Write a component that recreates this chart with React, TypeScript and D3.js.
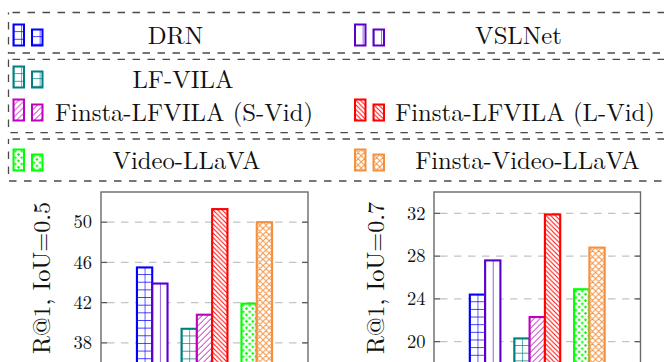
import React from "react";
import * as d3 from "d3";

// ---------- data ----------
const seriesNames = [
  "DRN",
  "VSLNet",
  "LF-VILA",
  "Finsta-LFVILA (S-Vid)",
  "Finsta-LFVILA (L-Vid)",
  "Video-LLaVA",
  "Finsta-Video-LLaVA",
];
const groupNames = ["DRN / VSLNet", "LF-VILA", "Video-LLaVA"];
const seriesGroup = [0, 0, 1, 1, 1, 2, 2];
const r1Iou05 = [45.5, 43.9, 39.4, 40.8, 51.3, 41.9, 50.0];
const r1Iou07 = [24.4, 27.6, 20.3, 22.3, 31.9, 24.9, 28.8];
const ticksIou05 = [38, 42, 46, 50];
const ticksIou07 = [20, 24, 28, 32];
const domainIou05 = [36, 53];
const domainIou07 = [18, 34];
const panelLabels = ["R@1, IoU=0.5", "R@1, IoU=0.7"];

// ---------- styles ----------
const seriesColors = ["#0000ff", "#5a00cc", "#008080", "#bf00bf", "#ff0000", "#00ff00", "#f5913e"];
const seriesPatterns = ["grid", "vlines", "grid", "nelines", "nwlines", "plus", "crosshatch"];
const FONT = "Latin Modern Roman";

// legend layout: box extents, and for each series: column, icon bottom, text centre x, text baseline
const legendBoxes = [
  { top: 12.5, bottom: 53 },
  { top: 59.3, bottom: 132.7 },
  { top: 139, bottom: 181 },
];
const legendCols = [13.5, 355];
const legendPlace = [
  { col: 0, iconBottom: 45.5, tx: 175.5, ty: 43.5 },
  { col: 1, iconBottom: 45.5, tx: 518.5, ty: 43.5 },
  { col: 0, iconBottom: 87.5, tx: 183, ty: 88 },
  { col: 0, iconBottom: 120.5, tx: 184, ty: 120.5 },
  { col: 1, iconBottom: 120.5, tx: 525, ty: 120.5 },
  { col: 0, iconBottom: 170.5, tx: 186.5, ty: 168.5 },
  { col: 1, iconBottom: 170.5, tx: 527.5, ty: 168.5 },
];

const panels = [
  { x0: 101, x1: 308, values: r1Iou05, ticks: ticksIou05, domain: domainIou05, label: panelLabels[0], labelX: 49.5, tickX: 92 },
  { x0: 434, x1: 640.5, values: r1Iou07, ticks: ticksIou07, domain: domainIou07, label: panelLabels[1], labelX: 383.5, tickX: 425.5 },
];
const TOP = 192;
const BOTTOM = 363;
const BAR_W = 15.3;

function patternId(i: number) {
  return `pat-${i}`;
}

function PatternDef({ i }: { i: number }) {
  const c = seriesColors[i];
  const kind = seriesPatterns[i];
  const sw = 0.95;
  if (kind === "grid") {
    const s = 7.65;
    return (
      <pattern id={patternId(i)} patternUnits="userSpaceOnUse" width={s} height={s} y={-1}>
        <rect width={s} height={s} fill="white" />
        <path d={`M0,0H${s}M0,0V${s}`} stroke={c} strokeWidth={1.25} fill="none" />
      </pattern>
    );
  }
  if (kind === "vlines") {
    const s = 7.65;
    return (
      <pattern id={patternId(i)} patternUnits="userSpaceOnUse" width={s} height={s}>
        <rect width={s} height={s} fill="white" />
        <path d={`M0,0V${s}`} stroke={c} strokeWidth={1.25} fill="none" />
      </pattern>
    );
  }
  if (kind === "nelines") {
    const s = 6;
    return (
      <pattern id={patternId(i)} patternUnits="userSpaceOnUse" width={s} height={s}>
        <rect width={s} height={s} fill="white" />
        <path d={`M0,${s}L${s},0M-1,1L1,-1M${s - 1},${s + 1}L${s + 1},${s - 1}`} stroke={c} strokeWidth={sw} fill="none" />
      </pattern>
    );
  }
  if (kind === "nwlines") {
    const s = 4.6;
    return (
      <pattern id={patternId(i)} patternUnits="userSpaceOnUse" width={s} height={s}>
        <rect width={s} height={s} fill="white" />
        <path d={`M0,0L${s},${s}M-1,${s - 1}L1,${s + 1}M${s - 1},-1L${s + 1},1`} stroke={c} strokeWidth={sw} fill="none" />
      </pattern>
    );
  }
  if (kind === "plus") {
    const s = 6.4;
    const p = (x: number, y: number) => `M${x - 1.4},${y}H${x + 1.4}M${x},${y - 1.4}V${y + 1.4}`;
    return (
      <pattern id={patternId(i)} patternUnits="userSpaceOnUse" width={s} height={s}>
        <rect width={s} height={s} fill="white" />
        <path d={p(1.8, 1.8) + p(1.8 + s / 2, 1.8 + s / 2)} stroke={c} strokeWidth={1.1} fill="none" />
      </pattern>
    );
  }
  // crosshatch
  const s = 6.2;
  return (
    <pattern id={patternId(i)} patternUnits="userSpaceOnUse" width={s} height={s}>
      <rect width={s} height={s} fill="white" />
      <path
        d={`M0,0L${s},${s}M0,${s}L${s},0M-1,1L1,-1M${s - 1},${s + 1}L${s + 1},${s - 1}M-1,${s - 1}L1,${s + 1}M${s - 1},-1L${s + 1},1`}
        stroke={c}
        strokeWidth={sw}
        fill="none"
      />
    </pattern>
  );
}

function Panel({ p, idx }: { p: (typeof panels)[number]; idx: number }) {
  const y = d3.scaleLinear().domain(p.domain).range([BOTTOM, TOP]);
  const gx = d3.scalePoint<number>().domain(groupNames.map((_, i) => i)).range([p.x0, p.x1]).padding(0.98);
  const groupCounts = groupNames.map((_, g) => seriesGroup.filter((s) => s === g).length);
  const clipId = `clip-${idx}`;
  return (
    <g>
      <clipPath id={clipId}>
        <rect x={p.x0} y={TOP} width={p.x1 - p.x0} height={BOTTOM - TOP} />
      </clipPath>
      {/* grid */}
      {p.ticks.map((t) => (
        <line key={`g${t}`} x1={p.x0} x2={p.x1} y1={y(t)} y2={y(t)} stroke="#c4c4c4" strokeWidth={1.3} strokeDasharray="7.5 6.5" strokeDashoffset={-6} />
      ))}
      {/* bars */}
      <g clipPath={`url(#${clipId})`}>
        {p.values.map((v, i) => {
          const g = seriesGroup[i];
          const k = seriesGroup.slice(0, i).filter((s) => s === g).length;
          const n = groupCounts[g];
          const x = (gx(g) as number) + (k - n / 2) * BAR_W;
          const top = y(v);
          return (
            <g key={i} transform={`translate(${x},${top})`}>
              <rect x={0} y={0} width={BAR_W} height={BOTTOM + 5 - top} fill={`url(#${patternId(i)})`} stroke={seriesColors[i]} strokeWidth={2.1} />
            </g>
          );
        })}
      </g>
      {/* ticks */}
      {p.ticks.map((t) => (
        <g key={`t${t}`}>
          <line x1={p.x0} x2={p.x0 + 6} y1={y(t)} y2={y(t)} stroke="#5a5a5a" strokeWidth={1.3} />
          <line x1={p.x1 - 6} x2={p.x1} y1={y(t)} y2={y(t)} stroke="#5a5a5a" strokeWidth={1.3} />
          <text x={p.tickX} y={y(t)} dy="0.34em" textAnchor="end" fontSize={18.5} fontFamily={FONT} fill="#111">
            {t}
          </text>
        </g>
      ))}
      {/* frame */}
      <rect x={p.x0} y={TOP} width={p.x1 - p.x0} height={BOTTOM - TOP} fill="none" stroke="#6a6a6a" strokeWidth={1.4} />
      <text transform={`translate(${p.labelX},278) rotate(-90)`} textAnchor="middle" fontSize={24.2} fontFamily={FONT} fill="#111">
        {p.label}
      </text>
    </g>
  );
}

function Legend() {
  return (
    <g>
      {legendBoxes.map((b, i) => (
        <rect key={i} x={8.5} y={b.top} width={720} height={b.bottom - b.top} fill="none" stroke="#4a4a4a" strokeWidth={1.3} strokeDasharray="7.5 7.5" strokeDashoffset={-4} />
      ))}
      {seriesNames.map((name, i) => {
        const lp = legendPlace[i];
        const x0 = legendCols[lp.col];
        return (
          <g key={name}>
            <g transform={`translate(${x0},${lp.iconBottom - 21})`}>
              <rect width={10.5} height={21} fill={`url(#${patternId(i)})`} stroke={seriesColors[i]} strokeWidth={2} />
            </g>
            <g transform={`translate(${x0 + 18.5},${lp.iconBottom - 16})`}>
              <rect width={10.5} height={16} fill={`url(#${patternId(i)})`} stroke={seriesColors[i]} strokeWidth={2} />
            </g>
            <text x={lp.tx} y={lp.ty} textAnchor="middle" fontSize={24.7} fontFamily={FONT} fill="#111">
              {name}
            </text>
          </g>
        );
      })}
    </g>
  );
}

export default function App() {
  return (
    <svg width={664} height={362} style={{ position: "absolute", left: 0, top: 0, background: "white" }}>
      <defs>
        {seriesNames.map((_, i) => (
          <PatternDef key={i} i={i} />
        ))}
      </defs>
      <rect width={664} height={362} fill="white" />
      <Legend />
      {panels.map((p, i) => (
        <Panel key={i} p={p} idx={i} />
      ))}
    </svg>
  );
}
